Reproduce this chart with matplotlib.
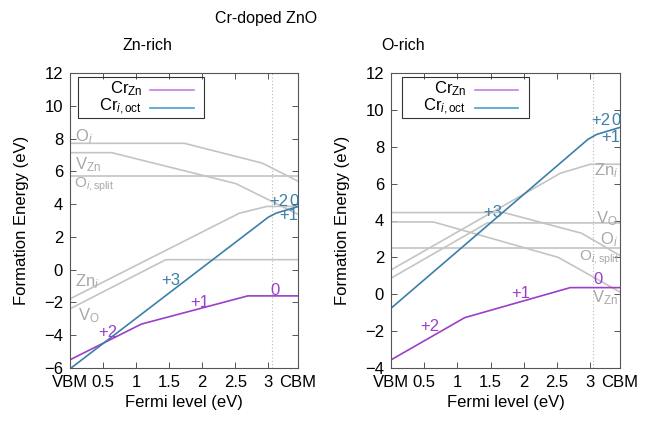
import matplotlib
matplotlib.use('Agg')
from matplotlib import pyplot as plt
from matplotlib.patches import Rectangle

plt.rcParams['font.family'] = ['Liberation Sans', 'DejaVu Sans']
plt.rcParams['mathtext.fontset'] = 'custom'
plt.rcParams['mathtext.rm'] = 'Liberation Sans'
plt.rcParams['mathtext.it'] = 'Liberation Sans:italic'

CBM = 3.45
GAP_EXP = 3.05
xticks = [0, 0.5, 1, 1.5, 2, 2.5, 3, CBM]
xticklabels = ['VBM', '0.5', '1', '1.5', '2', '2.5', '3', 'CBM']

# Zn-rich: piecewise formation energies (Fermi level, energy)
zn_crzn_x = [0, 1.08, 2.69, CBM]
zn_crzn_y = [-5.5, -3.32, -1.6, -1.6]
zn_cri_x = [0, 3.0, 3.12, CBM]
zn_cri_y = [-6.05, 3.2, 3.45, 3.85]
zn_oi_x = [0, 1.73, 2.91, CBM]
zn_oi_y = [7.71, 7.71, 6.5, 5.4]
zn_vzn_x = [0, 0.63, 2.51, CBM]
zn_vzn_y = [7.14, 7.14, 5.25, 3.38]
zn_oisplit_x = [0, CBM]
zn_oisplit_y = [5.71, 5.71]
zn_zni_x = [0, 2.56, 2.98, CBM]
zn_zni_y = [-1.78, 3.44, 3.86, 3.86]
zn_vo_x = [0, 1.45, CBM]
zn_vo_y = [-2.39, 0.61, 0.61]

# O-rich
o_crzn_x = [0, 1.11, 2.70, CBM]
o_crzn_y = [-3.56, -1.27, 0.36, 0.36]
o_cri_x = [0, 2.97, 3.1, CBM]
o_cri_y = [-0.76, 8.41, 8.67, 9.05]
o_oi_x = [0, 1.70, 2.87, CBM]
o_oi_y = [4.43, 4.43, 3.31, 2.1]
o_vzn_x = [0, 0.64, 2.52, CBM]
o_vzn_y = [3.92, 3.92, 2.0, 0.12]
o_oisplit_x = [0, CBM]
o_oisplit_y = [2.5, 2.5]
o_zni_x = [0, 2.55, 3.0, CBM]
o_zni_y = [1.32, 6.56, 7.05, 7.05]
o_vo_x = [0, 1.45, CBM]
o_vo_y = [0.87, 3.87, 3.87]

legend_labels = [r'Cr$_{\mathrm{Zn}}$', r'Cr$_{i\mathrm{,oct}}$']

purple = '#9b3fc9'
blue = '#3c7fa8'
legend_colors = ['#c47fe6', '#4a9fcf']
gray = '#c4c4c4'
graytxt = '#a8a8a8'
fs = 12

fig = plt.figure(figsize=(6.56, 4.26), dpi=100)
ax1 = fig.add_axes([70/656, 58/426, 228/656, 295/426])
ax2 = fig.add_axes([391/656, 58/426, 229/656, 295/426])


def setup(ax, ylo):
    ax.set_xlim(0, CBM)
    ax.set_ylim(ylo, 12)
    ax.set_xticks(xticks)
    ax.set_xticklabels(xticklabels, fontsize=fs)
    ax.set_yticks(range(ylo, 13, 2))
    ax.tick_params(axis='both', direction='in', top=True, right=True,
                   length=4, width=0.7, color='#555555', labelsize=fs)
    ax.tick_params(axis='x', pad=5)
    ax.tick_params(axis='y', pad=5)
    for s in ax.spines.values():
        s.set_color('#555555')
        s.set_linewidth(0.8)
    ax.axvline(GAP_EXP, color='#b8b8b8', lw=0.8, ls=(0, (1, 2)))
    ax.set_xlabel('Fermi level (eV)', fontsize=fs, labelpad=4)
    ax.set_ylabel('Formation Energy (eV)', fontsize=fs, labelpad=11)


# gnuplot-style key: right-aligned names followed by a line sample
def key(ax, x0):
    ax.add_patch(Rectangle((x0, 0.847), 0.553, 0.139, transform=ax.transAxes,
                           fill=False, ec='#333333', lw=0.8, zorder=5))
    rows = [0.946, 0.884]
    for lab, col, y in zip(legend_labels, legend_colors, rows):
        ax.text(x0 + 0.281, y, lab, transform=ax.transAxes, fontsize=fs,
                ha='right', va='center', zorder=6)
        ax.plot([x0 + 0.318, x0 + 0.508], [y - 0.004, y - 0.004], color=col,
                lw=1.2, transform=ax.transAxes, zorder=6)


setup(ax1, -6)
for xs, ys in [(zn_oi_x, zn_oi_y), (zn_vzn_x, zn_vzn_y), (zn_oisplit_x, zn_oisplit_y),
               (zn_zni_x, zn_zni_y), (zn_vo_x, zn_vo_y)]:
    ax1.plot(xs, ys, color=gray, lw=1.2)
ax1.plot(zn_crzn_x, zn_crzn_y, color=purple, lw=1.2)
ax1.plot(zn_cri_x, zn_cri_y, color=blue, lw=1.2)
ax1.text(0.08, 8.1, r'O$_i$', color=graytxt, fontsize=fs, va='center')
ax1.text(0.08, 6.4, r'V$_{\mathrm{Zn}}$', color=graytxt, fontsize=fs, va='center')
ax1.text(0.06, 5.15, r'O$_{i\mathrm{,split}}$', color=graytxt, fontsize=fs - 1, va='center')
ax1.text(0.08, -0.75, r'Zn$_i$', color=graytxt, fontsize=fs, va='center')
ax1.text(0.12, -2.8, r'V$_\mathrm{O}$', color=graytxt, fontsize=fs, va='center')
ax1.text(0.57, -3.85, '+2', color=purple, fontsize=fs, ha='center', va='center')
ax1.text(1.96, -2.0, '+1', color=purple, fontsize=fs, ha='center', va='center')
ax1.text(3.1, -1.25, '0', color=purple, fontsize=fs, ha='center', va='center')
ax1.text(1.52, -0.65, '+3', color=blue, fontsize=fs, ha='center', va='center')
ax1.text(3.3, 4.15, '+2', color=blue, fontsize=fs, ha='right', va='center')
ax1.text(3.46, 4.15, '0', color=blue, fontsize=fs, ha='right', va='center')
ax1.text(3.45, 3.3, '+1', color=blue, fontsize=fs, ha='right', va='center')
key(ax1, 0.035)

setup(ax2, -4)
for xs, ys in [(o_oi_x, o_oi_y), (o_vzn_x, o_vzn_y), (o_oisplit_x, o_oisplit_y),
               (o_zni_x, o_zni_y), (o_vo_x, o_vo_y)]:
    ax2.plot(xs, ys, color=gray, lw=1.2)
ax2.plot(o_crzn_x, o_crzn_y, color=purple, lw=1.2)
ax2.plot(o_cri_x, o_cri_y, color=blue, lw=1.2)
ax2.text(3.42, 6.72, r'Zn$_i$', color=graytxt, fontsize=fs, ha='right', va='center')
ax2.text(3.42, 4.1, r'V$_\mathrm{O}$', color=graytxt, fontsize=fs, ha='right', va='center')
ax2.text(3.42, 2.95, r'O$_i$', color=graytxt, fontsize=fs, ha='right', va='center')
ax2.text(3.43, 2.0, r'O$_{i\mathrm{,split}}$', color=graytxt, fontsize=fs - 1, ha='right', va='center')
ax2.text(3.42, -0.2, r'V$_{\mathrm{Zn}}$', color=graytxt, fontsize=fs, ha='right', va='center')
ax2.text(3.12, 0.8, '0', color=purple, fontsize=fs, ha='center', va='center')
ax2.text(1.96, 0.05, '+1', color=purple, fontsize=fs, ha='center', va='center')
ax2.text(0.58, -1.75, '+2', color=purple, fontsize=fs, ha='center', va='center')
ax2.text(1.53, 4.45, '+3', color=blue, fontsize=fs, ha='center', va='center')
ax2.text(3.3, 9.4, '+2', color=blue, fontsize=fs, ha='right', va='center')
ax2.text(3.46, 9.4, '0', color=blue, fontsize=fs, ha='right', va='center')
ax2.text(3.45, 8.5, '+1', color=blue, fontsize=fs, ha='right', va='center')
key(ax2, 0.048)

fig.text(266/656, 1 - 18/426, 'Cr-doped ZnO', ha='center', va='center', fontsize=11.5)
fig.text(147/656, 1 - 45/426, 'Zn-rich', ha='center', va='center', fontsize=11.5)
fig.text(403/656, 1 - 45/426, 'O-rich', ha='center', va='center', fontsize=11.5)

fig.savefig('out.png', dpi=100)
